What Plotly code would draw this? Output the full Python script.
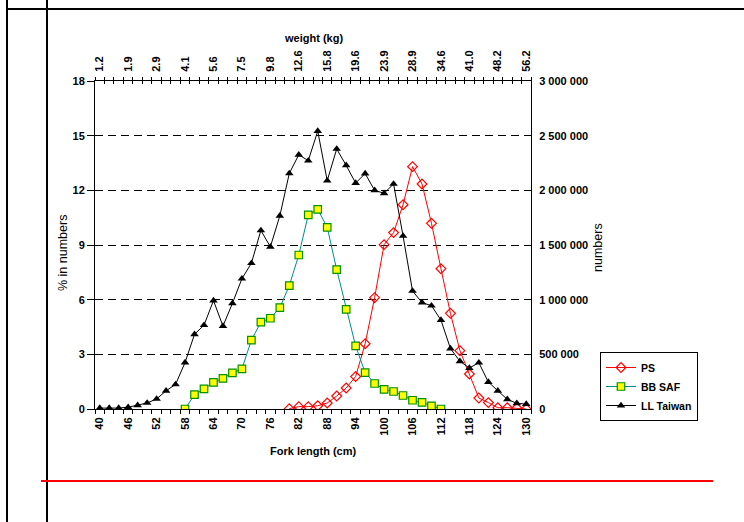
import plotly.graph_objects as go

# ---------------- data ----------------
fork_ll = list(range(40, 131, 2))
ll_taiwan = [0.05, 0.05, 0.05, 0.1, 0.2, 0.33, 0.55, 1.0, 1.35, 2.55,
             4.1, 4.6, 5.95, 4.55, 5.8, 7.15, 8.0, 9.8, 8.9, 10.6,
             12.93, 13.95, 13.63, 15.25, 12.53, 14.27, 13.37, 12.4, 12.92, 12.0,
             11.84, 12.35, 9.5, 6.48, 5.84, 5.67, 4.88, 3.32, 2.62, 2.25,
             2.54, 1.48, 1.0, 0.53, 0.31, 0.27]

fork_ps = list(range(80, 131, 2))
ps = [0.02, 0.13, 0.13, 0.18, 0.33, 0.71, 1.15, 1.78, 3.58, 6.11,
      9.02, 9.68, 11.21, 13.3, 12.35, 10.19, 7.7, 5.25, 3.2, 1.92,
      0.6, 0.35, 0.07, 0.07, 0.05, 0.0]

fork_bb = list(range(58, 113, 2))
bb_saf = [0.0, 0.79, 1.1, 1.46, 1.68, 1.98, 2.2, 3.78, 4.77, 4.98,
          5.56, 6.77, 8.45, 10.65, 10.96, 9.97, 7.65, 5.47, 3.46, 2.0,
          1.4, 1.08, 0.96, 0.74, 0.48, 0.36, 0.17, 0.0]

length_labels = [40, 46, 52, 58, 64, 70, 76, 82, 88, 94, 100, 106, 112, 118, 124, 130]
weight_labels = ["1.2", "1.9", "2.9", "4.1", "5.6", "7.5", "9.8", "12.6", "15.8",
                 "19.6", "23.9", "28.9", "34.6", "41.0", "48.2", "56.2"]
left_ticks = [0, 3, 6, 9, 12, 15, 18]
right_ticks = [0, 500000, 1000000, 1500000, 2000000, 2500000, 3000000]
right_tick_labels = ["0", "500 000", "1 000 000", "1 500 000", "2 000 000", "2 500 000", "3 000 000"]

# category boundaries (tick marks between categories)
boundaries = [c - 1 for c in fork_ll] + [fork_ll[-1] + 1]
xrange_ = [boundaries[0], boundaries[-1]]

# ---------------- layout geometry (pixels) ----------------
W, H = 744, 522
L, R, T, B = 95, 531, 81, 409


def px(xp):
    return (xp - L) / (R - L)


def py(yp):
    return (B - yp) / (B - T)


FONT = "Liberation Sans, Arial, sans-serif"
tickfont = dict(family=FONT, size=11, color="black", weight="bold")

fig = go.Figure()

fig.add_trace(go.Scatter(
    x=fork_ps, y=ps, name="PS", mode="lines+markers",
    line=dict(color="#FF0000", width=1),
    marker=dict(symbol="diamond-open", size=7.5, color="#FF0000", line=dict(width=1.2)),
))
fig.add_trace(go.Scatter(
    x=fork_bb, y=bb_saf, name="BB SAF", mode="lines+markers",
    line=dict(color="#008C8C", width=1),
    marker=dict(symbol="square", size=7.5, color="#FFFF00", line=dict(color="#009000", width=1.2)),
))
fig.add_trace(go.Scatter(
    x=fork_ll, y=ll_taiwan, name="LL Taiwan", mode="lines+markers",
    line=dict(color="black", width=1),
    marker=dict(symbol="triangle-up", size=7.5, color="black"),
))

# dummy traces so that all auxiliary axes are drawn
for xa, ya in [("x2", "y"), ("x3", "y"), ("x4", "y"), ("x5", "y"), ("x", "y2")]:
    fig.add_trace(go.Scatter(x=[None], y=[None], xaxis=xa, yaxis=ya,
                             showlegend=False, hoverinfo="skip", mode="markers"))

common_x = dict(range=xrange_, showgrid=False, zeroline=False, fixedrange=True)

fig.update_layout(
    width=W, height=H,
    margin=dict(l=L, r=W - R, t=T, b=H - B),
    paper_bgcolor="white", plot_bgcolor="white",
    font=dict(family=FONT, size=10, color="black"),
    xaxis=dict(**common_x, side="bottom", anchor="y", showline=True, linecolor="black",
               linewidth=1, tickmode="array", tickvals=boundaries, ticks="outside",
               ticklen=4, tickcolor="black", showticklabels=False),
    xaxis3=dict(**common_x, overlaying="x", side="bottom", anchor="y", showline=False,
                tickmode="array", tickvals=length_labels,
                ticktext=[str(v) for v in length_labels], tickangle=-90,
                ticks="outside", ticklen=3, tickcolor="rgba(0,0,0,0)", tickfont=tickfont),
    xaxis2=dict(**common_x, overlaying="x", side="top", anchor="y", showline=True,
                linecolor="black", linewidth=1, tickmode="array", tickvals=length_labels,
                ticktext=weight_labels, tickangle=-90, ticks="outside", ticklen=6,
                tickcolor="rgba(0,0,0,0)", tickfont=tickfont),
    xaxis4=dict(**common_x, overlaying="x", side="top", anchor="y", showline=False,
                tickmode="array", tickvals=boundaries, ticks="outside", ticklen=3,
                tickcolor="black", showticklabels=False),
    xaxis5=dict(**common_x, overlaying="x", side="top", anchor="y", showline=False,
                tickmode="array", tickvals=boundaries, ticks="inside", ticklen=3,
                tickcolor="black", showticklabels=False),
    yaxis=dict(range=[0, 18], tickmode="array", tickvals=left_ticks, ticks="outside",
               ticklen=7, tickcolor="black", showline=True, linecolor="black", linewidth=1,
               showgrid=True, gridcolor="black", gridwidth=1, griddash="8px,5px",
               zeroline=False, tickfont=tickfont, fixedrange=True),
    yaxis2=dict(range=[0, 3000000], overlaying="y", side="right", anchor="x",
                tickmode="array", tickvals=right_ticks, ticktext=right_tick_labels,
                ticks="inside", ticklen=6, tickcolor="black", showline=True,
                linecolor="black", linewidth=1, showgrid=False, zeroline=False,
                tickfont=tickfont, ticklabelstandoff=5, fixedrange=True),
    legend=dict(x=px(600), xanchor="left", y=py(352), yanchor="top",
                bordercolor="black", borderwidth=1, bgcolor="white",
                font=dict(family=FONT, size=10.5, color="black", weight="bold"),
                itemwidth=30, tracegroupgap=0),
    showlegend=True,
)

# axis titles as annotations
fig.add_annotation(text="weight (kg)", x=px(313), y=py(38), xref="paper", yref="paper",
                   showarrow=False, font=dict(family=FONT, size=11, weight="bold"),
                   xanchor="center", yanchor="middle")
fig.add_annotation(text="Fork length (cm)", x=px(313), y=py(451), xref="paper", yref="paper",
                   showarrow=False, font=dict(family=FONT, size=11, weight="bold"),
                   xanchor="center", yanchor="middle")
fig.add_annotation(text="% in numbers", x=px(63), y=py(253), xref="paper", yref="paper",
                   showarrow=False, textangle=-90, font=dict(family=FONT, size=12.5),
                   xanchor="center", yanchor="middle")
fig.add_annotation(text="numbers", x=px(598), y=py(248), xref="paper", yref="paper",
                   showarrow=False, textangle=-90, font=dict(family=FONT, size=12.5),
                   xanchor="center", yanchor="middle")

# document frame lines around the chart
frame = [
    (7, -5, 7, H + 5, "black", 2),
    (47, -5, 47, H + 5, "black", 2),
    (6, 9, W + 5, 9, "black", 2),
    (41, 481, 713, 481, "#FF0000", 2),
]
for x0, y0, x1, y1, col, wdt in frame:
    fig.add_shape(type="line", xref="paper", yref="paper",
                  x0=px(x0), y0=py(y0), x1=px(x1), y1=py(y1),
                  line=dict(color=col, width=wdt), layer="above")

fig.write_html("out.html")
